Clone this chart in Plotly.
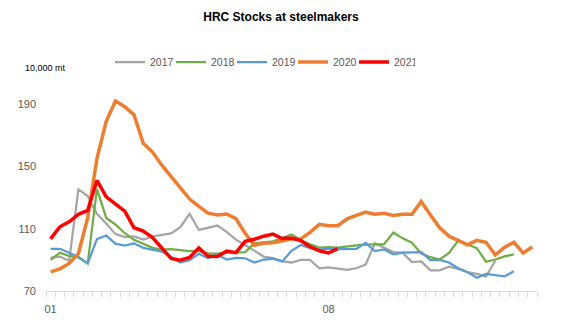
import plotly.graph_objects as go

weeks = list(range(53))
tick_positions = [0, 30]
tick_labels = ["01", "08"]

s2017 = [91.5, 92.1, 89.4, 135.2, 131, 119.6, 113.3, 106.5, 104.6, 105, 103, 105, 106, 107, 111,
         119.6, 109.2, 110.7, 112, 108, 103, 99.5, 95.6, 92.1, 91.2, 89, 88.3, 90, 90, 84.6,
         85.2, 84.2, 83.5, 84.6, 87, 100.6, 97.7, 95, 94.5, 88.6, 89, 83.3, 83.3, 85.6, 84.2,
         82.1, 81, 79.4, 89.4]
s2018 = [90, 94.6, 92.5, 91.5, 87.7, 135.6, 116.9, 112.7, 107.1, 102.9, 100.3, 97.7, 96.5, 96.8,
         96.3, 95.6, 95.6, 94, 94, 94.7, 94.6, 95, 100.6, 101.25, 101.9, 104, 106.3, 102.7, 100,
         97.9, 98.2, 97.9, 98.8, 99.3, 99.8, 100, 100.1, 107.6, 103.8, 101, 94, 91.7, 90.2, 94.4,
         102.4, 99.8, 97.5, 88.8, 90.2, 92.2, 93.5]
s2019 = [97.1, 97.1, 94.6, 91.9, 87.7, 103.3, 105.6, 100.4, 99.2, 100.6, 97.7, 96.5, 95.3, 91.8,
         88.3, 89.8, 93.9, 91, 93.3, 90.2, 91.2, 91, 88.3, 90.2, 90.7, 89, 95.8, 99.5, 97.5, 96.5,
         97.2, 96.9, 97.2, 97.1, 100.8, 95.6, 96.7, 93.5, 94.6, 95, 95, 89.8, 90, 88.3, 84.6,
         82.1, 78.5, 81, 80, 79.4, 82.7]
s2020 = [82.3, 84.2, 87.7, 94, 117, 155, 179, 192, 188.3, 183.1, 164.8, 159.2, 150.8, 143.5, 137,
         129, 124.3, 120, 118.8, 119.4, 116.5, 107, 99.4, 100.6, 101, 102.2, 103.4, 103.5, 107.6,
         112.8, 111.9, 111.9, 116.3, 118.5, 120.6, 119.3, 119.9, 118.5, 119.2, 119.2, 127.4,
         118.8, 110.5, 105.2, 102.2, 99.6, 102.5, 101.25, 93.1, 98.1, 101.25, 94.4, 98.2]
s2021 = [103.5, 111.25, 114.4, 119.2, 121.7, 141, 130.4, 125.8, 121.25, 110.6, 108.5, 104.3, 97.7,
         90.9, 89.8, 91.5, 97.7, 92.3, 92.1, 95.6, 94.6, 101.9, 103.2, 105.2, 106.5, 103.7, 104,
         102.3, 98.5, 95.8, 94.4, 97.2]

series = [
    ("2017", s2017, "#a5a5a5", 2.25),
    ("2018", s2018, "#70ad47", 2.25),
    ("2019", s2019, "#5b9bd5", 2.25),
    ("2020", s2020, "#ed7d31", 3.5),
    ("2021", s2021, "#ff0000", 3.5),
]

fig = go.Figure()
for name, vals, color, w in series:
    fig.add_trace(go.Scatter(x=weeks[:len(vals)], y=vals, mode="lines", name=name,
                             line=dict(color=color, width=w)))

fig.update_layout(
    width=562, height=327,
    margin=dict(l=46, r=25, t=83, b=36),
    paper_bgcolor="white", plot_bgcolor="white",
    font=dict(family="Liberation Sans, Arial, sans-serif", color="#595959", size=11),
    title=dict(text="<b>HRC Stocks at steelmakers</b>", x=0.5, xanchor="center",
               y=1 - 17 / 327, yanchor="middle", yref="container",
               font=dict(size=12, color="#000000")),
    showlegend=True,
    legend=dict(orientation="h", xref="container", yref="container",
                x=110 / 562, y=1 - 62 / 327, xanchor="left", yanchor="middle",
                font=dict(size=10.5, color="#595959"), bgcolor="rgba(0,0,0,0)",
                entrywidth=16, itemwidth=30),
    annotations=[dict(text="10,000 mt", xref="paper", yref="paper",
                      x=(23 - 46) / 491, y=(291 - 62) / 208, xanchor="left", yanchor="middle",
                      showarrow=False, font=dict(size=9, color="#000000"))],
)
fig.update_xaxes(range=[-0.5, 52.5], tickmode="array", tickvals=tick_positions,
                 ticktext=tick_labels, ticks="", showgrid=False, zeroline=False,
                 showline=True, linecolor="#d9d9d9", linewidth=1, ticklabelstandoff=8,
                 minor=dict(tickmode="linear", tick0=-0.5, dtick=1, ticks="outside",
                            ticklen=5, tickcolor="#d9d9d9", tickwidth=1, showgrid=False),
                 tickfont=dict(size=11, color="#595959"))
fig.update_yaxes(range=[70, 200], tickmode="array", tickvals=[70, 110, 150, 190],
                 showgrid=False, zeroline=False, showline=False, ticks="",
                 ticklabelstandoff=9,
                 tickfont=dict(size=11, color="#595959"))

fig.write_html("out.html")
